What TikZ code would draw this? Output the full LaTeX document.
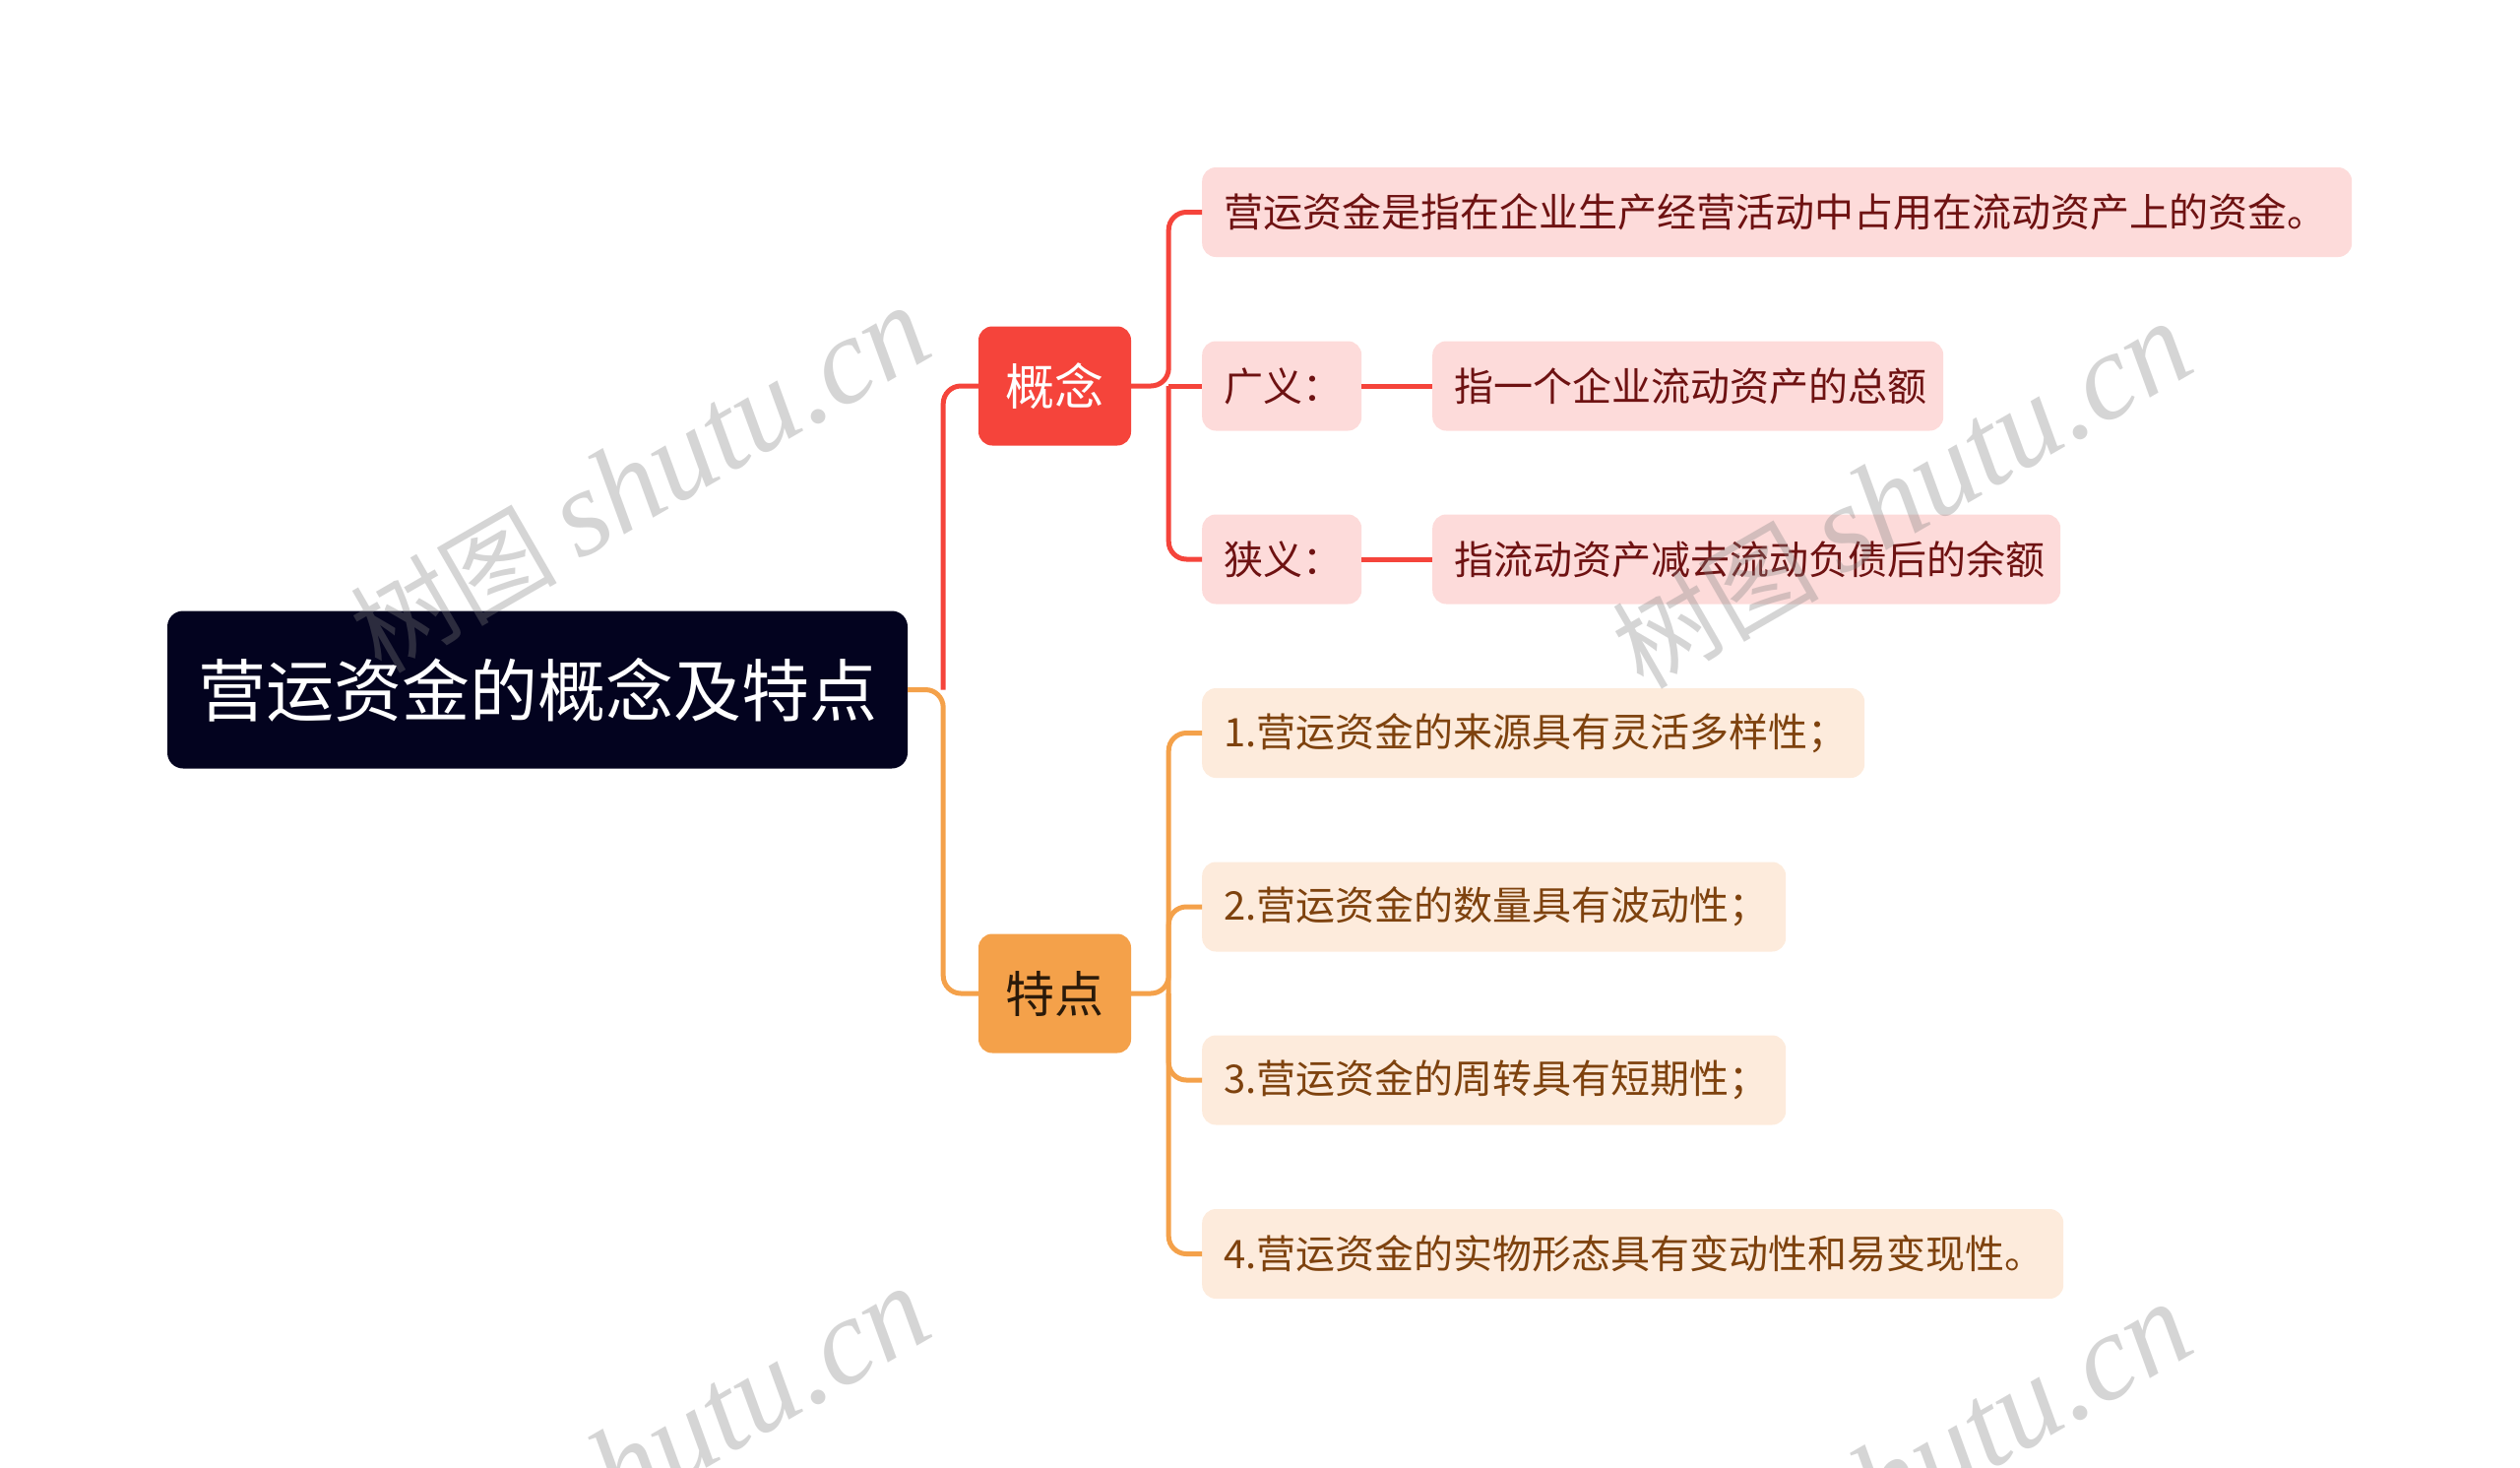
\documentclass[tikz,border=0pt]{standalone}
\usepackage{fontspec}
\newfontfamily\cjk{Noto Sans CJK SC}
\newfontfamily\wmlat{Liberation Serif}
\usetikzlibrary{calc}
\definecolor{rootfill}{HTML}{03031F}
\definecolor{redmain}{HTML}{F5443B}
\definecolor{orgmain}{HTML}{F4A14A}
\definecolor{pinkfill}{HTML}{FDDBDA}
\definecolor{pinktext}{HTML}{6E1212}
\definecolor{peachfill}{HTML}{FDEBDC}
\definecolor{peachtext}{HTML}{7E420E}
\definecolor{orgtext}{HTML}{2A1A0A}
\definecolor{wm}{HTML}{808080}
\tikzset{
  rootbox/.style={fill=rootfill, rounded corners=16pt, minimum height=160pt, minimum width=752pt, inner sep=0pt, text=white, font=\cjk\fontsize{69}{76}\selectfont},
  branchbox/.style={rounded corners=14pt, minimum height=121pt, minimum width=155pt, inner sep=0pt, font=\cjk\fontsize{50}{56}\selectfont},
  leafbox/.style={rounded corners=14pt, minimum height=91pt, inner xsep=22pt, inner ysep=0pt, align=left, anchor=west, font=\cjk\fontsize{40}{46}\selectfont},
  pinkbox/.style={leafbox, fill=pinkfill, text=pinktext},
  peachbox/.style={leafbox, fill=peachfill, text=peachtext},
  redline/.style={draw=redmain, line width=5pt, rounded corners=18pt},
  orgline/.style={draw=orgmain, line width=5pt, rounded corners=18pt},
  wmark/.style={text=wm, text opacity=0.33, rotate=30, inner sep=0pt}
}
\begin{document}
\begin{tikzpicture}[x=1pt, y=-1pt]
\useasboundingbox (0,0) rectangle (2560,1491);
% nodes
\node[rootbox] (root) at (546,700.5) {营运资金的概念及特点};
\node[branchbox, fill=redmain, text=white] (gn) at (1071.5,392) {概念};
\node[branchbox, fill=orgmain, text=orgtext] (td) at (1071.5,1009) {特点};

\node[pinkbox, text width=1124pt] (c1) at (1221,215.5) {营运资金是指在企业生产经营活动中占用在流动资产上的资金。};
\node[pinkbox, text width=118pt] (gy) at (1221,392) {广义：};
\node[pinkbox, text width=475pt] (gyd) at (1455,392) {指一个企业流动资产的总额};
\node[pinkbox, text width=118pt] (xy) at (1221,568) {狭义：};
\node[pinkbox, text width=594pt] (xyd) at (1455,568) {指流动资产减去流动负债后的余额};

\node[peachbox, text width=629pt] (f1) at (1221,744.5) {1.营运资金的来源具有灵活多样性；};
\node[peachbox, text width=549pt] (f2) at (1221,921) {2.营运资金的数量具有波动性；};
\node[peachbox, text width=549pt] (f3) at (1221,1097) {3.营运资金的周转具有短期性；};
\node[peachbox, text width=831pt] (f4) at (1221,1273.5) {4.营运资金的实物形态具有变动性和易变现性。};

% connectors
\coordinate (rj) at ($(root.east)+(36,0)$);
\draw[orgline] (root.east) -- (rj) |- (td.west);
\draw[redline] (rj) |- (gn.west);

\coordinate (gj) at ($(gn.east)+(38,0)$);
\draw[redline] (gn.east) -- (gj) |- (c1.west);
\draw[redline] (gj) |- (xy.west);
\draw[redline] (gj) -- (gy.west);
\draw[redline] (gy.east) -- (gyd.west);
\draw[redline] (xy.east) -- (xyd.west);

\coordinate (tj) at ($(td.east)+(38,0)$);
\draw[orgline] (td.east) -- (tj) |- (f1.west);
\draw[orgline] (tj) |- (f4.west);
\draw[orgline] (tj) |- (f2.west);
\draw[orgline] (tj) |- (f3.west);

% watermarks
\foreach \wx/\wy [count=\i] in {650/488, 1932/504, 650/1484, 1932/1500}{
  \node[wmark] (wm\i) at (\wx,\wy) {{\cjk\fontsize{105}{110}\selectfont 树图}\hspace{22pt}{\wmlat\itshape\fontsize{125}{130}\selectfont shutu.cn}};
}
\end{tikzpicture}
\end{document}
